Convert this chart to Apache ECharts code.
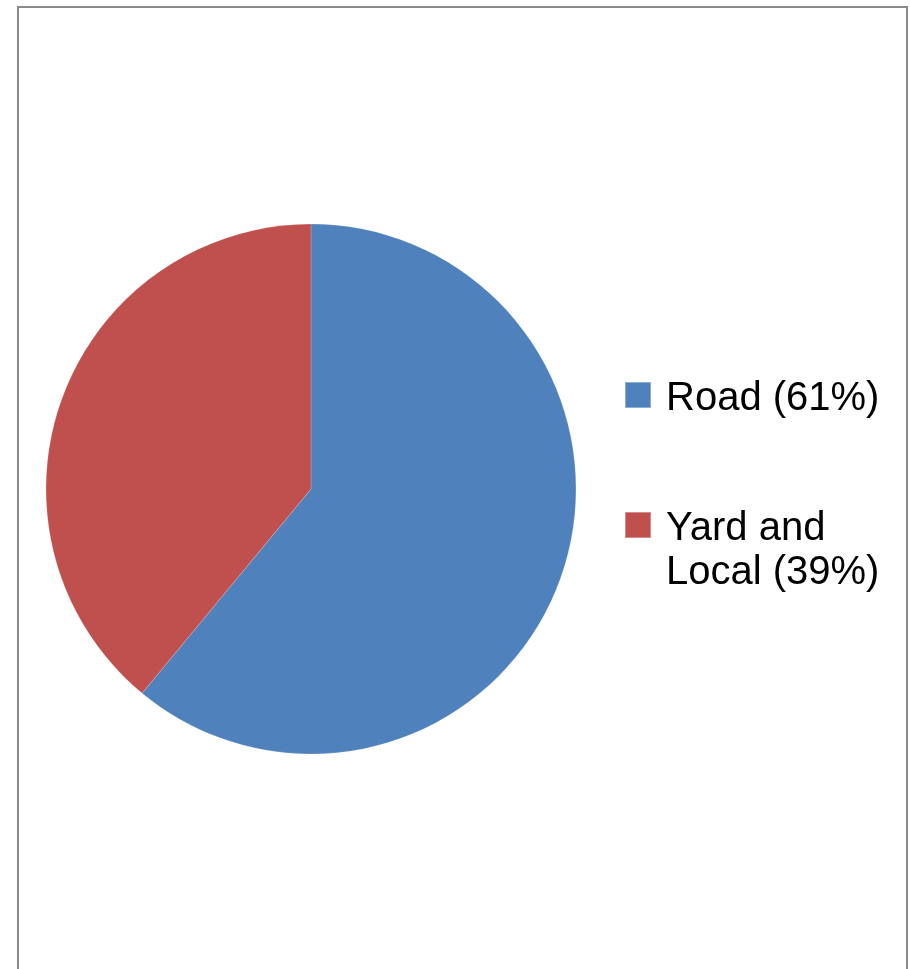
<!DOCTYPE html>
<html>
<head>
<meta charset="utf-8">
<title>Road vs Yard and Local</title>
<script src="https://cdn.jsdelivr.net/npm/echarts@6/dist/echarts.min.js"></script>
<style>
  html, body { margin: 0; padding: 0; background: #ffffff; }
  #chart { width: 910px; height: 969px; }
</style>
</head>
<body>
<div id="chart"></div>
<script>
// Share of activity by category
const categories = ['Road', 'Yard and Local'];
const shares = [61, 39];
const legendLines = [['Road (61%)'], ['Yard and', 'Local (39%)']];
const sliceColors = ['#4F81BD', '#C0504D'];

const chart = echarts.init(document.getElementById('chart'), null, { renderer: 'canvas' });

const fontFamily = "'Liberation Sans', Arial, sans-serif";
const linesFor = {};
categories.forEach((c, i) => { linesFor[c] = legendLines[i]; });

// A blank spacer line on top pushes the first text line level with the marker;
// later lines hang below it.
function legendText(name) {
  const lines = linesFor[name];
  const spacer = lines.length > 1 ? '{gapTall| }' : '{gap| }';
  return [spacer].concat(lines.map(l => '{t|' + l + '}')).join('\n');
}

function legendFor(idx, top) {
  return {
    orient: 'vertical',
    left: 624,
    top: top,
    padding: 0,
    itemWidth: 26,
    itemHeight: 26,
    icon: 'rect',
    selectedMode: false,
    data: [categories[idx]],
    formatter: legendText,
    textStyle: {
      fontFamily,
      fontSize: 40,
      color: '#000000',
      padding: [0, 0, 0, 10],
      rich: {
        gap: { fontSize: 4, lineHeight: 8 },
        gapTall: { fontSize: 4, lineHeight: 52 },
        t: { fontFamily, fontSize: 40, color: '#000000', lineHeight: 44 }
      }
    }
  };
}

const option = {
  backgroundColor: '#ffffff',
  animation: false,
  graphic: [{
    type: 'rect',
    shape: { x: 18, y: 7, width: 889, height: 1000 },
    style: { fill: 'none', stroke: '#8a8a8a', lineWidth: 2 },
    silent: true
  }],
  legend: [
    legendFor(0, 371),
    legendFor(1, 479)
  ],
  series: [{
    type: 'pie',
    center: [311, 489],
    radius: 265,
    startAngle: 90,
    clockwise: true,
    label: { show: false },
    labelLine: { show: false },
    emphasis: { disabled: true },
    itemStyle: { borderColor: 'rgba(255,255,255,0.35)', borderWidth: 0.5 },
    data: categories.map((c, i) => ({
      name: c,
      value: shares[i],
      itemStyle: { color: sliceColors[i] }
    }))
  }]
};

chart.setOption(option);
</script>
</body>
</html>
